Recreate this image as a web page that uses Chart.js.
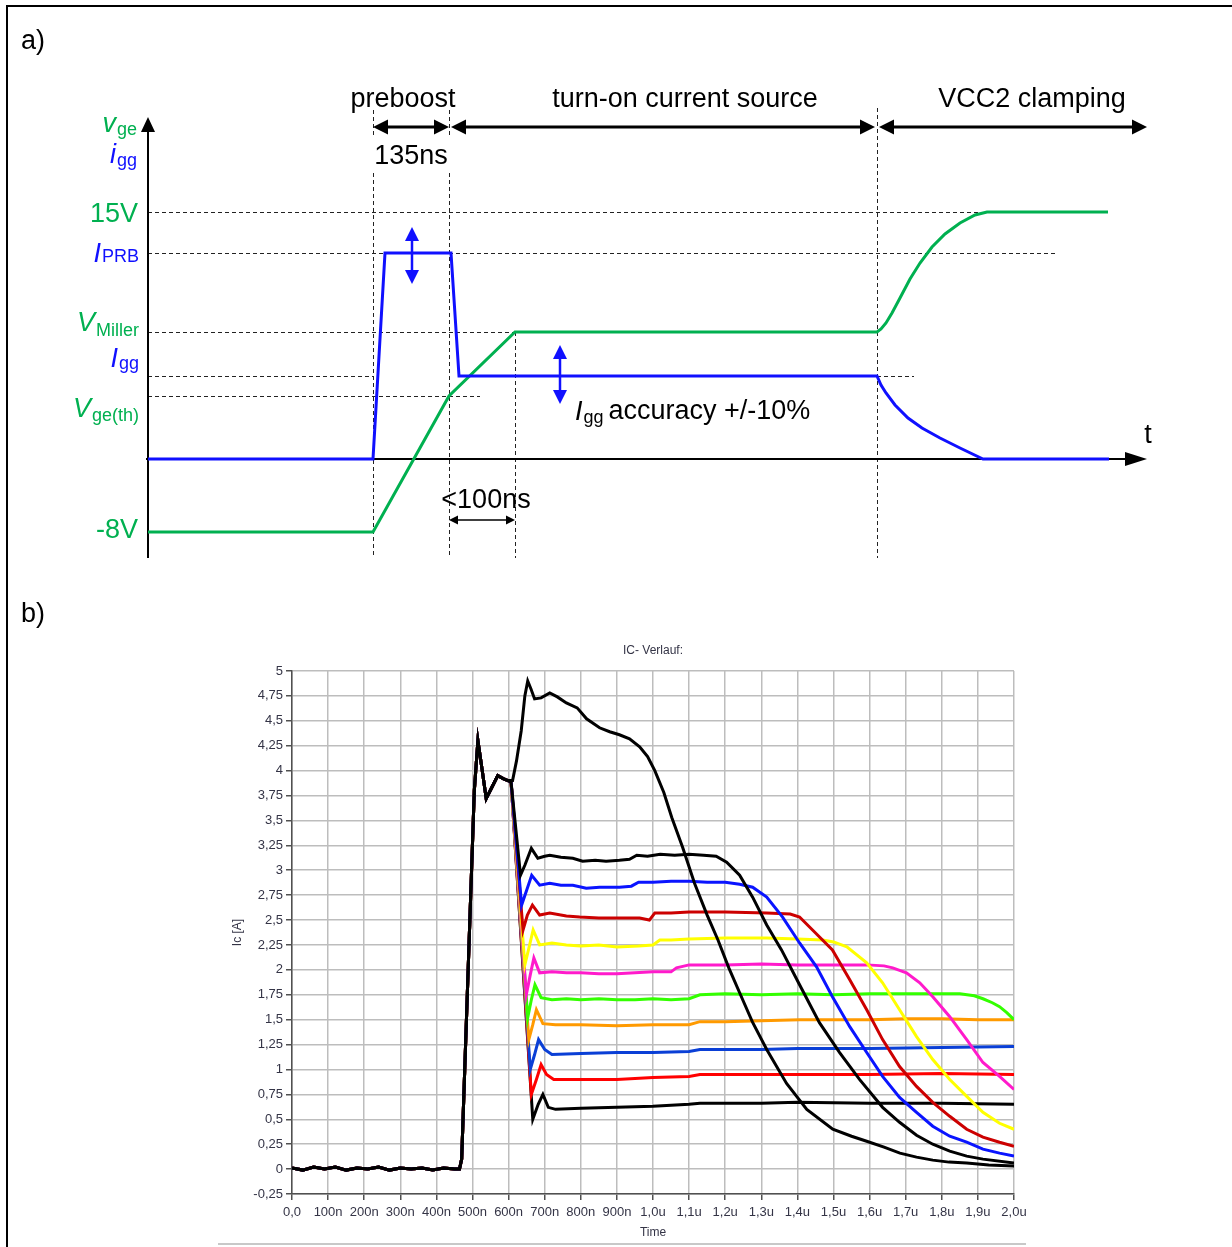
<!DOCTYPE html>
<html><head><meta charset="utf-8">
<script src="https://cdn.jsdelivr.net/npm/chart.js@4.4.1/dist/chart.umd.min.js"></script>
<style>
html,body{margin:0;padding:0;background:#fff;}
#page{position:relative;width:1232px;height:1247px;overflow:hidden;background:#fff;}
#frame{position:absolute;left:6px;top:5px;width:1240px;height:1260px;border-left:2px solid #000;border-top:2px solid #000;}
#ca{position:absolute;left:0;top:0;width:1232px;height:590px;}
#cb{position:absolute;left:0;top:590px;width:1232px;height:657px;}
</style></head>
<body><div id="page"><div id="frame"></div>
<canvas id="ca" width="1232" height="590"></canvas>
<canvas id="cb" width="1232" height="657"></canvas>
</div>
<script>
// ---------------- Panel a) schematic data (arbitrary time / level units) ----------------
const tPreStart = 225, tPreEnd = 301, tMiller = 367, tClamp = 729, tEnd = 999;
const lv15 = 247, lvPrb = 206, lvMiller = 127, lvIgg = 83, lvTh = 63, lvNeg = -73;
const vgeT = [0, 225, 301, 367, 729, 733, 738, 744, 752, 762, 772, 784, 797, 812, 827, 839, 960];
const vgeV = [-73, -73, 63, 127, 127, 130, 136, 146, 161, 180, 196, 212, 225, 236, 244, 247, 247];
const iggT = [0, 225, 237, 303, 311, 729, 733, 738, 747, 760, 774, 792, 812, 835, 961];
const iggV = [0, 0, 206, 206, 83, 83, 74, 66, 54, 41, 31, 21, 11, 0, 0];

// ---------------- Panel b) measured IC curves (time in ns, IC in A) ----------------
const commonT = [0, 30, 60, 90, 120, 150, 180, 210, 240, 270, 300, 330, 360, 390, 420, 450, 464, 470, 487, 505, 515, 525, 538, 552, 570, 585, 598];
const commonV = [0.01, -0.01, 0.02, 0.0, 0.02, -0.01, 0.01, 0.0, 0.02, -0.01, 0.01, 0.0, 0.01, -0.01, 0.01, 0.0, 0.0, 0.1, 1.9, 3.8, 4.3, 4.05, 3.72, 3.82, 3.95, 3.92, 3.9];
const blackTopT = [611, 622, 635, 645, 653, 662, 672, 690, 714, 735, 760, 790, 816, 852, 880, 907, 935, 963, 985, 1005, 1030, 1052, 1082, 1115, 1150, 1180, 1210, 1240, 1275, 1315, 1370, 1426, 1498, 1550, 1592, 1640, 1684, 1730, 1775, 1820, 1869, 1930, 2000];
const blackTopV = [3.9, 4.1, 4.4, 4.75, 4.9, 4.82, 4.72, 4.73, 4.78, 4.74, 4.68, 4.63, 4.52, 4.43, 4.39, 4.36, 4.32, 4.24, 4.14, 4.0, 3.78, 3.53, 3.23, 2.87, 2.55, 2.3, 2.02, 1.77, 1.48, 1.2, 0.86, 0.6, 0.4, 0.33, 0.28, 0.22, 0.16, 0.12, 0.09, 0.07, 0.06, 0.04, 0.03];
const black2T = [607, 633, 645, 663, 681, 700, 714, 745, 778, 805, 840, 870, 907, 935, 955, 985, 1020, 1060, 1100, 1140, 1175, 1204, 1240, 1276, 1315, 1356, 1406, 1461, 1517, 1572, 1636, 1683, 1730, 1775, 1822, 1869, 1914, 2000];
const black2V = [3.88, 2.95, 3.05, 3.22, 3.12, 3.14, 3.15, 3.13, 3.12, 3.09, 3.1, 3.09, 3.1, 3.11, 3.15, 3.14, 3.16, 3.15, 3.16, 3.15, 3.14, 3.08, 2.95, 2.73, 2.45, 2.2, 1.85, 1.47, 1.17, 0.9, 0.62, 0.47, 0.34, 0.25, 0.18, 0.13, 0.1, 0.06];
const blueT = [607, 636, 650, 664, 686, 714, 745, 778, 815, 852, 907, 940, 960, 1000, 1050, 1100, 1150, 1200, 1240, 1276, 1315, 1359, 1406, 1453, 1497, 1545, 1592, 1636, 1683, 1730, 1775, 1822, 1869, 1914, 1960, 2000];
const blueV = [3.88, 2.65, 2.8, 2.95, 2.85, 2.87, 2.85, 2.85, 2.82, 2.83, 2.83, 2.84, 2.88, 2.88, 2.89, 2.89, 2.88, 2.88, 2.86, 2.83, 2.73, 2.53, 2.27, 2.03, 1.73, 1.43, 1.17, 0.93, 0.72, 0.57, 0.43, 0.33, 0.27, 0.2, 0.16, 0.13];
const darkRedT = [607, 640, 652, 666, 686, 714, 760, 797, 850, 907, 963, 990, 1005, 1050, 1100, 1200, 1315, 1380, 1406, 1442, 1497, 1545, 1592, 1636, 1683, 1730, 1775, 1822, 1869, 1914, 1960, 2000];
const darkRedV = [3.88, 2.4, 2.55, 2.65, 2.55, 2.57, 2.54, 2.53, 2.52, 2.52, 2.52, 2.5, 2.57, 2.57, 2.58, 2.58, 2.57, 2.56, 2.53, 2.4, 2.2, 1.9, 1.6, 1.3, 1.03, 0.83, 0.67, 0.53, 0.4, 0.32, 0.27, 0.23];
const yellowT = [607, 645, 655, 668, 686, 720, 760, 800, 850, 900, 960, 1000, 1019, 1050, 1100, 1200, 1315, 1400, 1470, 1500, 1537, 1592, 1636, 1683, 1730, 1775, 1822, 1869, 1914, 1960, 2000];
const yellowV = [3.88, 2.05, 2.2, 2.4, 2.25, 2.27, 2.25, 2.24, 2.25, 2.23, 2.24, 2.25, 2.3, 2.3, 2.31, 2.32, 2.32, 2.31, 2.3, 2.28, 2.23, 2.07, 1.87, 1.6, 1.33, 1.1, 0.9, 0.73, 0.57, 0.46, 0.4];
const magentaT = [607, 649, 660, 670, 686, 720, 760, 800, 850, 900, 950, 1000, 1050, 1065, 1100, 1200, 1300, 1400, 1500, 1592, 1640, 1664, 1702, 1739, 1775, 1822, 1869, 1914, 1960, 2000];
const magentaV = [3.88, 1.75, 1.95, 2.12, 1.97, 1.98, 1.97, 1.97, 1.96, 1.96, 1.97, 1.98, 1.98, 2.02, 2.05, 2.05, 2.06, 2.05, 2.05, 2.05, 2.04, 2.02, 1.97, 1.87, 1.73, 1.53, 1.3, 1.07, 0.93, 0.8];
const greenT = [607, 653, 663, 673, 690, 720, 760, 800, 850, 900, 950, 1000, 1050, 1100, 1130, 1200, 1300, 1400, 1500, 1600, 1700, 1800, 1850, 1890, 1914, 1940, 1960, 1980, 2000];
const greenV = [3.88, 1.52, 1.7, 1.85, 1.72, 1.7, 1.71, 1.7, 1.71, 1.7, 1.7, 1.71, 1.7, 1.71, 1.75, 1.76, 1.75, 1.76, 1.75, 1.76, 1.76, 1.76, 1.76, 1.74, 1.71, 1.67, 1.63, 1.57, 1.5];
const orangeT = [607, 656, 667, 677, 695, 730, 800, 900, 1000, 1100, 1130, 1200, 1300, 1406, 1500, 1600, 1700, 1800, 1900, 2000];
const orangeV = [3.88, 1.3, 1.45, 1.6, 1.46, 1.45, 1.45, 1.44, 1.45, 1.45, 1.48, 1.48, 1.49, 1.5, 1.5, 1.5, 1.51, 1.51, 1.5, 1.5];
const royalT = [607, 660, 672, 683, 700, 720, 800, 900, 1000, 1100, 1130, 1300, 1400, 1600, 1800, 2000];
const royalV = [3.88, 1.0, 1.15, 1.3, 1.2, 1.15, 1.16, 1.17, 1.17, 1.18, 1.2, 1.2, 1.21, 1.21, 1.22, 1.23];
const redT = [607, 663, 677, 690, 705, 725, 800, 900, 1000, 1100, 1130, 1300, 1400, 1600, 1800, 2000];
const redV = [3.88, 0.75, 0.9, 1.05, 0.95, 0.9, 0.9, 0.9, 0.92, 0.93, 0.95, 0.95, 0.95, 0.95, 0.96, 0.95];
const black3T = [607, 667, 682, 695, 710, 730, 800, 900, 1000, 1100, 1130, 1300, 1400, 1600, 1800, 2000];
const black3V = [3.88, 0.5, 0.65, 0.75, 0.62, 0.6, 0.61, 0.62, 0.63, 0.65, 0.66, 0.66, 0.67, 0.66, 0.66, 0.65];

const xTickLabels = ['0,0','100n','200n','300n','400n','500n','600n','700n','800n','900n','1,0u','1,1u','1,2u','1,3u','1,4u','1,5u','1,6u','1,7u','1,8u','1,9u','2,0u'];
const yTickLabels = ['-0,25','0','0,25','0,5','0,75','1','1,25','1,5','1,75','2','2,25','2,5','2,75','3','3,25','3,5','3,75','4','4,25','4,5','4,75','5'];

// ---------------- styles ----------------
const FF = '"Liberation Sans", Arial, Helvetica, sans-serif';
const GREEN = '#00b050', BLUE = '#1010ff';
Chart.defaults.font.family = FF;

function pts(t, v) { return t.map((x, i) => ({ x: x, y: v[i] })); }
function withCommon(t, v) { return pts(commonT.concat(t), commonV.concat(v)); }

function arrowHead(ctx, tx, ty, dx, dy, len, half) {
  const bx = tx - dx * len, by = ty - dy * len;
  ctx.beginPath(); ctx.moveTo(tx, ty);
  ctx.lineTo(bx - dy * half, by + dx * half);
  ctx.lineTo(bx + dy * half, by - dx * half);
  ctx.closePath(); ctx.fill();
}
function dblArrow(ctx, x1, y1, x2, y2, lw, len, half) {
  const L = Math.hypot(x2 - x1, y2 - y1), dx = (x2 - x1) / L, dy = (y2 - y1) / L;
  ctx.lineWidth = lw;
  ctx.beginPath(); ctx.moveTo(x1 + dx * len * 0.8, y1 + dy * len * 0.8); ctx.lineTo(x2 - dx * len * 0.8, y2 - dy * len * 0.8); ctx.stroke();
  arrowHead(ctx, x1, y1, -dx, -dy, len, half);
  arrowHead(ctx, x2, y2, dx, dy, len, half);
}
function subText(ctx, main, sub, x, base, drop, color, align, italic) {
  const mf = (italic ? 'italic ' : '') + '27px ' + FF, sf = '18px ' + FF;
  ctx.font = mf; const wm = ctx.measureText(main).width;
  ctx.font = sf; const ws = ctx.measureText(sub).width;
  const gap = italic ? 1 : 0;
  const x0 = align === 'right' ? x - wm - ws - gap : x;
  ctx.fillStyle = color; ctx.textAlign = 'left'; ctx.textBaseline = 'alphabetic';
  ctx.font = mf; ctx.fillText(main, x0, base);
  ctx.font = sf; ctx.fillText(sub, x0 + wm + gap, base + drop);
  return x0 + wm + gap + ws;
}

// ---------------- Panel a chart ----------------
const annotA = {
  id: 'annotA',
  beforeDatasetsDraw(chart) {
    const ctx = chart.ctx, xs = chart.scales.x, ys = chart.scales.y;
    const X = v => xs.getPixelForValue(v), Y = v => ys.getPixelForValue(v);
    ctx.save();
    ctx.strokeStyle = '#222'; ctx.lineWidth = 1; ctx.setLineDash([4, 3]);
    const hl = (lv, a, b) => { const y = Math.round(Y(lv)) + 0.5; ctx.beginPath(); ctx.moveTo(X(a), y); ctx.lineTo(X(b), y); ctx.stroke(); };
    const vl = (t, a, b) => { const x = Math.round(X(t)) + 0.5; ctx.beginPath(); ctx.moveTo(x, Y(a)); ctx.lineTo(x, Y(b)); ctx.stroke(); };
    hl(lv15, 0, 839); hl(lvPrb, 0, 907); hl(lvMiller, 0, tMiller);
    hl(lvIgg, 0, tPreStart); hl(lvIgg, tClamp, 766); hl(lvTh, 0, 332);
    vl(tPreStart, 349, 321); vl(tPreStart, 286, -99);
    vl(tPreEnd, 349, 321); vl(tPreEnd, 286, -99);
    vl(tMiller, lvMiller, -99); vl(tClamp, 351, -99);
    ctx.setLineDash([]);
    // axes
    ctx.strokeStyle = '#000'; ctx.fillStyle = '#000'; ctx.lineWidth = 2;
    ctx.beginPath(); ctx.moveTo(X(0), Y(-99)); ctx.lineTo(X(0), Y(342) + 12); ctx.stroke();
    arrowHead(ctx, X(0), Y(342), 0, -1, 15, 7);
    ctx.beginPath(); ctx.moveTo(X(0) - 2, Y(0)); ctx.lineTo(X(tEnd) - 18, Y(0)); ctx.stroke();
    arrowHead(ctx, X(tEnd), Y(0), 1, 0, 22, 7);
    ctx.restore();
  },
  afterDatasetsDraw(chart) {
    const ctx = chart.ctx, xs = chart.scales.x, ys = chart.scales.y;
    const X = v => xs.getPixelForValue(v), Y = v => ys.getPixelForValue(v);
    ctx.save();
    ctx.strokeStyle = '#000'; ctx.fillStyle = '#000';
    const ay = Y(332);
    dblArrow(ctx, X(tPreStart), ay, X(tPreEnd), ay, 3, 15, 7.5);
    dblArrow(ctx, X(tPreEnd) + 2, ay, X(tClamp) - 2, ay, 3, 15, 7.5);
    dblArrow(ctx, X(tClamp) + 2, ay, X(tEnd), ay, 3, 15, 7.5);
    dblArrow(ctx, X(tPreEnd), Y(-61), X(tMiller), Y(-61), 1.5, 9, 4.5);
    ctx.strokeStyle = BLUE; ctx.fillStyle = BLUE;
    dblArrow(ctx, X(264), Y(232), X(264), Y(175), 2.5, 14, 7);
    dblArrow(ctx, X(412), Y(114), X(412), Y(55), 2.5, 14, 7);
    // texts
    const f27 = '27px ' + FF;
    ctx.textBaseline = 'alphabetic';
    ctx.fillStyle = '#000'; ctx.font = f27; ctx.textAlign = 'left';
    ctx.fillText('a)', 21, 49);
    ctx.textAlign = 'center';
    ctx.fillText('preboost', 403, 107);
    ctx.fillText('turn-on current source', 685, 107);
    ctx.fillText('VCC2 clamping', 1032, 107);
    ctx.fillText('135ns', 411, 164);
    ctx.fillText('<100ns', 486, 508);
    ctx.fillText('t', 1148, 443);
    const xe = subText(ctx, 'I', 'gg', 575, 420, 3, '#000', 'left', true);
    ctx.font = f27; ctx.textAlign = 'left'; ctx.fillStyle = '#000';
    ctx.fillText('accuracy +/-10%', xe + 5, 419);
    // left axis labels
    const R = X(0) - 10;
    subText(ctx, 'v', 'ge', R - 1, 132, 3, GREEN, 'right', true);
    subText(ctx, 'i', 'gg', R - 1, 163, 3, BLUE, 'right', true);
    ctx.font = f27; ctx.textAlign = 'right'; ctx.fillStyle = GREEN;
    ctx.fillText('15V', R, Y(lv15) + 10);
    ctx.fillText('-8V', R, Y(lvNeg) + 6);
    subText(ctx, 'I', 'PRB', R + 1, Y(lvPrb) + 9, 0, BLUE, 'right', true);
    subText(ctx, 'V', 'Miller', R + 1, Y(lvMiller) - 1, 5, GREEN, 'right', true);
    subText(ctx, 'I', 'gg', R + 1, Y(lvIgg) - 9, 2, BLUE, 'right', true);
    subText(ctx, 'V', 'ge(th)', R + 1, Y(lvTh) + 21, 4, GREEN, 'right', true);
    ctx.restore();
  }
};

new Chart(document.getElementById('ca'), {
  type: 'line',
  data: { datasets: [
    { label: 'igg', data: pts(iggT, iggV), borderColor: BLUE, borderWidth: 3, pointRadius: 0, tension: 0, fill: false },
    { label: 'vge', data: pts(vgeT, vgeV), borderColor: GREEN, borderWidth: 3, pointRadius: 0, tension: 0, fill: false }
  ]},
  options: {
    responsive: false, animation: false, clip: false,
    layout: { padding: { left: 148, right: 85, top: 117, bottom: 31 } },
    scales: {
      x: { type: 'linear', display: false, min: 0, max: tEnd },
      y: { type: 'linear', display: false, min: -100, max: 342 }
    },
    plugins: { legend: { display: false }, tooltip: { enabled: false } }
  },
  plugins: [annotA]
});

// ---------------- Panel b chart ----------------
const series = [
  { name: 'IC 11', t: blackTopT, v: blackTopV, color: '#000000' },
  { name: 'IC 10', t: black2T, v: black2V, color: '#000000' },
  { name: 'IC 9', t: blueT, v: blueV, color: '#0a14ff' },
  { name: 'IC 8', t: darkRedT, v: darkRedV, color: '#cc0000' },
  { name: 'IC 7', t: yellowT, v: yellowV, color: '#ffff00' },
  { name: 'IC 6', t: magentaT, v: magentaV, color: '#ff1acb' },
  { name: 'IC 5', t: greenT, v: greenV, color: '#33ff00' },
  { name: 'IC 4', t: orangeT, v: orangeV, color: '#ff9a00' },
  { name: 'IC 3', t: royalT, v: royalV, color: '#0a3fd6' },
  { name: 'IC 2', t: redT, v: redV, color: '#ff0000' },
  { name: 'IC 1', t: black3T, v: black3V, color: '#000000' }
];
const TICKC = '#343446';
const decoB = {
  id: 'decoB',
  afterDraw(chart) {
    const ctx = chart.ctx, ca = chart.chartArea;
    ctx.save();
    ctx.fillStyle = TICKC; ctx.font = '12px ' + FF; ctx.textAlign = 'center'; ctx.textBaseline = 'middle';
    ctx.fillText('IC- Verlauf:', (ca.left + ca.right) / 2, ca.top - 20);
    ctx.fillStyle = '#000'; ctx.font = '27px ' + FF; ctx.textAlign = 'left'; ctx.textBaseline = 'alphabetic';
    ctx.fillText('b)', 21, 32);
    ctx.strokeStyle = '#c8c8c8'; ctx.lineWidth = 2;
    ctx.beginPath(); ctx.moveTo(ca.left - 74, chart.height - 3); ctx.lineTo(ca.right + 12, chart.height - 3); ctx.stroke();
    ctx.restore();
  }
};
new Chart(document.getElementById('cb'), {
  type: 'line',
  data: { datasets: series.map(s => ({
    label: s.name, data: withCommon(s.t, s.v), borderColor: s.color,
    borderWidth: 3, pointRadius: 0, tension: 0, fill: false
  })) },
  options: {
    responsive: false, animation: false,
    layout: { padding: { left: 226, right: 218, top: 81, bottom: 3 } },
    scales: {
      x: {
        type: 'linear', min: 0, max: 2000,
        afterFit: s => { s.height = 50; },
        ticks: { stepSize: 100, autoSkip: false, maxRotation: 0, minRotation: 0, padding: 5, color: TICKC, font: { size: 13 },
          callback: v => xTickLabels[Math.round(v / 100)] },
        grid: { color: '#bdbdbd', lineWidth: 1.5, tickLength: 6, tickColor: '#505050' },
        border: { color: '#505050', width: 1.5 },
        title: { display: true, text: 'Time', color: TICKC, font: { size: 12 }, padding: { top: 2, bottom: 4 } }
      },
      y: {
        type: 'linear', min: -0.25, max: 5,
        afterFit: s => { s.width = 66; },
        ticks: { stepSize: 0.25, autoSkip: false, padding: 3, color: TICKC, font: { size: 13 },
          callback: v => yTickLabels[Math.round((v + 0.25) / 0.25)] },
        grid: { color: '#bdbdbd', lineWidth: 1.5, tickLength: 6, tickColor: '#505050' },
        border: { color: '#505050', width: 1.5 },
        title: { display: true, text: 'Ic [A]', color: TICKC, font: { size: 12 }, padding: { top: 4, bottom: 4 } }
      }
    },
    plugins: { legend: { display: false }, tooltip: { enabled: false } }
  },
  plugins: [decoB]
});
</script>
</body></html>
